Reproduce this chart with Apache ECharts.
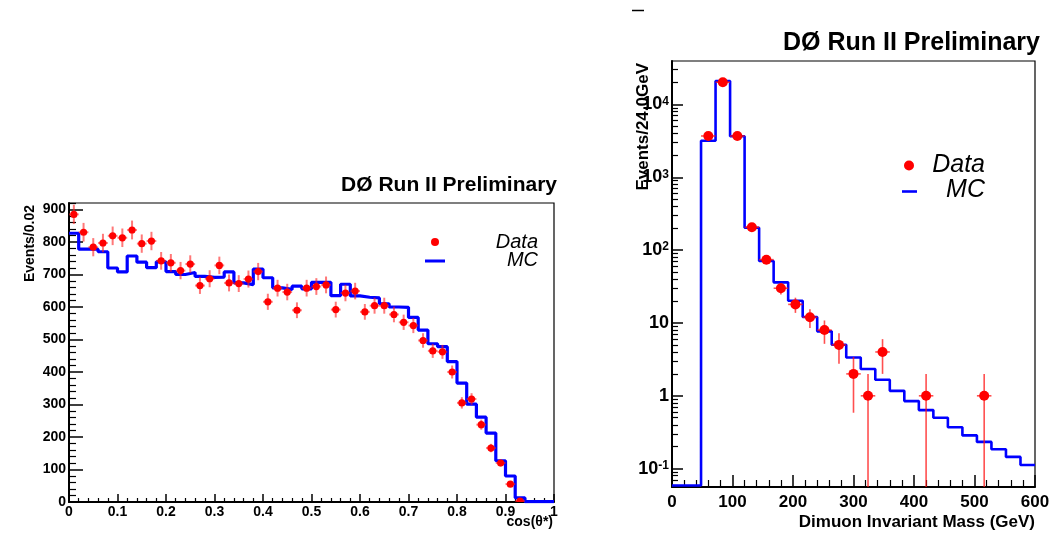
<!DOCTYPE html>
<html>
<head>
<meta charset="utf-8">
<script src="https://cdn.jsdelivr.net/npm/echarts@6/dist/echarts.min.js"></script>
<style>
  html, body { margin: 0; padding: 0; background: #ffffff; }
  #chart { width: 1062px; height: 533px; }
</style>
</head>
<body>
<div id="chart"></div>
<script>
// ---- Left panel: cos(theta*) distribution, bins of 0.02 ----
const cosBinEdges = [0, 0.02, 0.04, 0.06, 0.08, 0.1, 0.12, 0.14, 0.16, 0.18, 0.2, 0.22, 0.24, 0.26, 0.28, 0.3,
  0.32, 0.34, 0.36, 0.38, 0.4, 0.42, 0.44, 0.46, 0.48, 0.5, 0.52, 0.54, 0.56, 0.58, 0.6, 0.62, 0.64, 0.66, 0.68,
  0.7, 0.72, 0.74, 0.76, 0.78, 0.8, 0.82, 0.84, 0.86, 0.88, 0.9, 0.92, 0.94, 0.96, 0.98, 1.0];
const cosData = [885, 830, 784, 797, 819, 813, 837, 795, 803, 742, 736, 712, 732, 666, 687, 728, 674, 672, 686, 709,
  616, 658, 646, 590, 658, 663, 668, 592, 643, 649, 585, 604, 604, 577, 553, 543, 497, 465, 462, 400,
  305, 317, 238, 166, 120, 55, 3];
const cosMC = [827, 778, 778, 770, 720, 708, 757, 738, 721, 739, 709, 700, 706, 694, 691, 692, 708, 674, 669, 717,
  690, 659, 654, 664, 656, 676, 676, 635, 670, 634, 630, 628, 610, 600, 599, 568, 529, 487, 478, 432,
  366, 301, 261, 212, 127, 80, 13, 1, 1, 1];
const cosYMajorTicks = [0, 100, 200, 300, 400, 500, 600, 700, 800, 900];
const cosYMinorTicks = [20, 40, 60, 80, 120, 140, 160, 180, 220, 240, 260, 280, 320, 340, 360, 380, 420, 440, 460, 480,
  520, 540, 560, 580, 620, 640, 660, 680, 720, 740, 760, 780, 820, 840, 860, 880, 920];

// ---- Right panel: dimuon invariant mass, bins of 24 GeV ----
const massBinEdges = [0, 24, 48, 72, 96, 120, 144, 168, 192, 216, 240, 264, 288, 312, 336, 360, 384, 408, 432,
  456, 480, 504, 528, 552, 576, 600];
const massData = [0, 0, 3690, 20200, 3690, 206, 74, 30, 18, 12, 8, 5, 2, 1, 4, 0, 0, 1, 0, 0, 0, 1, 0, 0, 0];
const massMC = [0, 0, 3180, 21000, 3660, 203, 70.8, 36.1, 20.2, 12.1, 7.67, 5.02, 3.35, 2.33, 1.66, 1.17, 0.846,
  0.637, 0.499, 0.371, 0.286, 0.233, 0.185, 0.145, 0.112];
const massYMajorTicks = [0.1, 1, 10, 100, 1000, 10000];
const logDecades = [0.01, 0.1, 1, 10, 100, 1000, 10000];
const logMinorSteps = [2, 3, 4, 5, 6, 7, 8, 9];

const massYMin = 0.056;
const massYMax = 39500;

const FONT = "'Liberation Sans', Arial, Helvetica, sans-serif";
const RED = '#ff0000';
const BLUE = '#0000ff';

// histogram outline: one point per lower bin edge, closed at the last upper edge;
// empty bins sit on the floor value so they run along the bottom of the frame
function stepPoints(edges, values, floor) {
  const pts = [];
  for (let i = 0; i < values.length; i++) {
    pts.push([edges[i], Math.max(values[i], floor)]);
  }
  pts.push([edges[values.length], Math.max(values[values.length - 1], floor)]);
  return pts;
}

// data points at bin centres with Poisson errors and bin-width bars
function pointItems(edges, counts) {
  const items = [];
  for (let i = 0; i < counts.length; i++) {
    if (counts[i] <= 0) continue;
    const lo = edges[i], hi = edges[i + 1];
    items.push([(lo + hi) / 2, counts[i], (hi - lo) / 2, Math.sqrt(counts[i])]);
  }
  return items;
}

function makeErrorRenderer(opts) {
  return function (params, api) {
    const x = api.value(0), y = api.value(1), ex = api.value(2), ey = api.value(3);
    const c = api.coord([x, y]);
    const top = api.coord([x, y + ey]);
    const bot = api.coord([x, Math.max(y - ey, opts.floor)]);
    const left = api.coord([x - ex, y]);
    const right = api.coord([x + ex, y]);
    const barStyle = { stroke: opts.barColor, lineWidth: opts.barWidth };
    return {
      type: 'group',
      children: [
        { type: 'line', shape: { x1: c[0], y1: bot[1], x2: c[0], y2: top[1] }, style: barStyle },
        { type: 'line', shape: { x1: left[0], y1: c[1], x2: right[0], y2: c[1] }, style: barStyle },
        { type: 'circle', shape: { cx: c[0], cy: c[1], r: opts.radius }, style: { fill: RED } }
      ]
    };
  };
}

const massYMinorTicks = [];
logDecades.forEach(d => logMinorSteps.forEach(m => {
  const v = +(d * m).toPrecision(3);
  if (v > massYMin && v < massYMax) massYMinorTicks.push(v);
}));

const boldLabel = (size) => ({ fontFamily: FONT, fontWeight: 'bold', fontSize: size, color: '#000' });

const chart = echarts.init(document.getElementById('chart'), null, { renderer: 'canvas' });

chart.setOption({
  animation: false,
  backgroundColor: '#ffffff',
  grid: [
    { left: 69, top: 203, right: 508, bottom: 31, show: true, borderColor: '#000', borderWidth: 1.2, backgroundColor: 'transparent' },
    { left: 672, top: 61, right: 27, bottom: 46, show: true, borderColor: '#000', borderWidth: 1.2, backgroundColor: 'transparent' }
  ],
  xAxis: [
    {
      gridIndex: 0, type: 'value', min: 0, max: 1, interval: 0.1,
      axisLine: { show: true, onZero: false, lineStyle: { color: '#000', width: 2 } },
      axisTick: { show: true, inside: true, length: 8, lineStyle: { color: '#000', width: 1.5 } },
      minorTick: { show: true, splitNumber: 5, length: 4, lineStyle: { color: '#000', width: 1.2 } },
      splitLine: { show: false },
      axisLabel: Object.assign(boldLabel(14), {
        margin: 3,
        formatter: v => (v === 0 ? '0' : (Math.abs(v - 1) < 1e-9 ? '1' : v.toFixed(1)))
      })
    },
    {
      gridIndex: 1, type: 'value', min: 0, max: 600, interval: 100,
      axisLine: { show: true, onZero: false, lineStyle: { color: '#000', width: 2 } },
      axisTick: { show: true, inside: true, length: 12, lineStyle: { color: '#000', width: 1.5 } },
      minorTick: { show: true, splitNumber: 5, length: 7, lineStyle: { color: '#000', width: 1.2 } },
      splitLine: { show: false },
      axisLabel: Object.assign(boldLabel(17), { margin: 7 })
    }
  ],
  yAxis: [
    {
      gridIndex: 0, type: 'value', min: 0, max: 920, position: 'left',
      axisLine: { show: true, onZero: false, lineStyle: { color: '#000', width: 2 } },
      axisTick: { show: true, inside: true, length: 14, customValues: cosYMajorTicks, lineStyle: { color: '#000', width: 1.5 } },
      splitLine: { show: false },
      axisLabel: Object.assign(boldLabel(14), { margin: 3, customValues: cosYMajorTicks })
    },
    {
      gridIndex: 0, type: 'value', min: 0, max: 920, position: 'left',
      axisLine: { show: false },
      axisTick: { show: true, inside: true, length: 7, customValues: cosYMinorTicks, lineStyle: { color: '#000', width: 1.2 } },
      splitLine: { show: false },
      axisLabel: { show: false }
    },
    {
      gridIndex: 1, type: 'log', logBase: 10, min: massYMin, max: massYMax, position: 'left',
      axisLine: { show: true, onZero: false, lineStyle: { color: '#000', width: 2 } },
      axisTick: { show: true, inside: true, length: 11, customValues: massYMajorTicks, lineStyle: { color: '#000', width: 1.5 } },
      splitLine: { show: false },
      axisLabel: {
        margin: 3,
        customValues: massYMajorTicks,
        formatter: v => {
          const e = Math.round(Math.log10(v));
          if (e === 0) return '{b|1}';
          if (e === 1) return '{b|10}';
          return '{b|10}{s|' + e + '}';
        },
        rich: {
          b: boldLabel(18),
          s: Object.assign(boldLabel(12), { verticalAlign: 'top' })
        }
      }
    },
    {
      gridIndex: 1, type: 'log', logBase: 10, min: massYMin, max: massYMax, position: 'left',
      axisLine: { show: false },
      axisTick: { show: true, inside: true, length: 6, customValues: massYMinorTicks, lineStyle: { color: '#000', width: 1.2 } },
      splitLine: { show: false },
      axisLabel: { show: false }
    }
  ],
  series: [
    {
      name: 'MC', type: 'line', xAxisIndex: 0, yAxisIndex: 0, step: 'end', symbol: 'none',
      data: stepPoints(cosBinEdges, cosMC, 0),
      lineStyle: { color: BLUE, width: 3.2 }, z: 3, silent: true
    },
    {
      name: 'Data', type: 'custom', xAxisIndex: 0, yAxisIndex: 0, clip: true,
      data: pointItems(cosBinEdges, cosData),
      encode: { x: 0, y: 1 },
      renderItem: makeErrorRenderer({ floor: 0, barColor: 'rgba(255,30,30,0.6)', barWidth: 2, radius: 3.6 }),
      z: 4, silent: true
    },
    {
      name: 'MC', type: 'line', xAxisIndex: 1, yAxisIndex: 2, step: 'end', symbol: 'none',
      data: stepPoints(massBinEdges, massMC, massYMin * 1.05),
      lineStyle: { color: BLUE, width: 2.6 }, z: 3, silent: true
    },
    {
      name: 'Data', type: 'custom', xAxisIndex: 1, yAxisIndex: 2, clip: true,
      data: pointItems(massBinEdges, massData),
      encode: { x: 0, y: 1 },
      renderItem: makeErrorRenderer({ floor: 0.001, barColor: 'rgba(255,20,20,0.75)', barWidth: 1.6, radius: 5 }),
      z: 4, silent: true
    }
  ],
  graphic: [
    // panel titles
    { type: 'text', x: 557, y: 185, style: { text: 'DØ Run II Preliminary', align: 'right', verticalAlign: 'middle', font: "bold 21px " + FONT, fill: '#000' } },
    { type: 'text', x: 1040, y: 43, style: { text: 'DØ Run II Preliminary', align: 'right', verticalAlign: 'middle', font: "bold 25px " + FONT, fill: '#000' } },
    // axis titles
    { type: 'text', x: 30, y: 205, rotation: Math.PI / 2, style: { text: 'Events/0.02', align: 'right', verticalAlign: 'middle', font: "bold 14px " + FONT, fill: '#000' } },
    { type: 'text', x: 553, y: 522, style: { text: 'cos(θ*)', align: 'right', verticalAlign: 'middle', font: "bold 14px " + FONT, fill: '#000' } },
    { type: 'text', x: 643, y: 63, rotation: Math.PI / 2, style: { text: 'Events/24.0GeV', align: 'right', verticalAlign: 'middle', font: "bold 17px " + FONT, fill: '#000' } },
    { type: 'text', x: 1035, y: 522, style: { text: 'Dimuon Invariant Mass (GeV)', align: 'right', verticalAlign: 'middle', font: "bold 17px " + FONT, fill: '#000' } },
    // left legend
    { type: 'circle', shape: { cx: 435, cy: 242, r: 4 }, style: { fill: RED } },
    { type: 'text', x: 538, y: 242, style: { text: 'Data', align: 'right', verticalAlign: 'middle', font: "italic 20px " + FONT, fill: '#000' } },
    { type: 'line', shape: { x1: 425, y1: 261, x2: 445, y2: 261 }, style: { stroke: BLUE, lineWidth: 3 } },
    { type: 'text', x: 538, y: 260, style: { text: 'MC', align: 'right', verticalAlign: 'middle', font: "italic 20px " + FONT, fill: '#000' } },
    // right legend
    { type: 'circle', shape: { cx: 909, cy: 165.5, r: 5 }, style: { fill: RED } },
    { type: 'text', x: 985, y: 165, style: { text: 'Data', align: 'right', verticalAlign: 'middle', font: "italic 25px " + FONT, fill: '#000' } },
    { type: 'line', shape: { x1: 902, y1: 191.5, x2: 917, y2: 191.5 }, style: { stroke: BLUE, lineWidth: 2.6 } },
    { type: 'text', x: 985, y: 190, style: { text: 'MC', align: 'right', verticalAlign: 'middle', font: "italic 25px " + FONT, fill: '#000' } },
    // small dash at the top of the right pad
    { type: 'line', shape: { x1: 632, y1: 10.5, x2: 644, y2: 10.5 }, style: { stroke: '#000', lineWidth: 1.5 } }
  ]
});
</script>
</body>
</html>
